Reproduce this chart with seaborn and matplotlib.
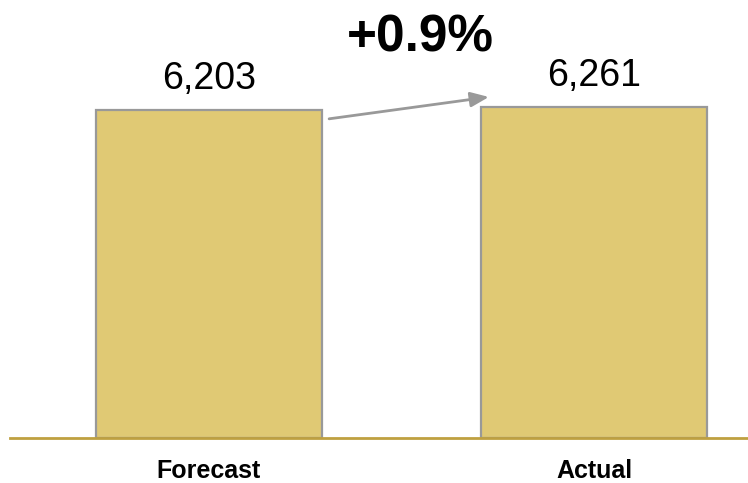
import pandas as pd
import matplotlib
matplotlib.use('Agg')
import matplotlib.pyplot as plt
import seaborn as sns

# Data
categories = ['Forecast', 'Actual']
values = [6203, 6261]
value_labels = ['6,203', '6,261']
change_label = '+0.9%'

sns.set_style('white')
plt.rcParams['font.family'] = ['Liberation Sans', 'DejaVu Sans']

df = pd.DataFrame({'Category': categories, 'Value': values})

fig = plt.figure(figsize=(7.48, 4.83), dpi=100)
ax = fig.add_axes([10 / 748, 45 / 483, 738 / 748, 438 / 483])

sns.barplot(data=df, x='Category', y='Value', ax=ax, color='#E0C974',
            saturation=1, width=0.587, edgecolor='#999999', linewidth=1.6)

ax.set_xlim(-199 / 385, 539 / 385)
ax.set_ylim(0, 8291)

# value labels above bars
for i, (v, lab) in enumerate(zip(values, value_labels)):
    ax.text(i, v + 600, lab, ha='center', va='center', fontsize=27, color='black')

# arrow between bars
ax.annotate('', xy=(0.727, values[1] * 1.031), xytext=(0.312, values[0] * 0.974),
            arrowprops=dict(arrowstyle='-|>,head_length=1.1,head_width=0.45',
                            color='#999999', lw=2, shrinkA=0, shrinkB=0))

ax.text(0.548, 7580, change_label, ha='center', va='center', fontsize=37,
        fontweight='bold', color='black')

# baseline
for s in ['top', 'right', 'left']:
    ax.spines[s].set_visible(False)
ax.spines['bottom'].set_color('#BFA040')
ax.spines['bottom'].set_linewidth(2)
ax.set_yticks([])
ax.set_xlabel('')
ax.set_ylabel('')
ax.tick_params(axis='x', length=0, pad=15, labelsize=18, labelcolor='black')
for t in ax.get_xticklabels():
    t.set_fontweight('bold')

fig.savefig('out.png', dpi=100)
